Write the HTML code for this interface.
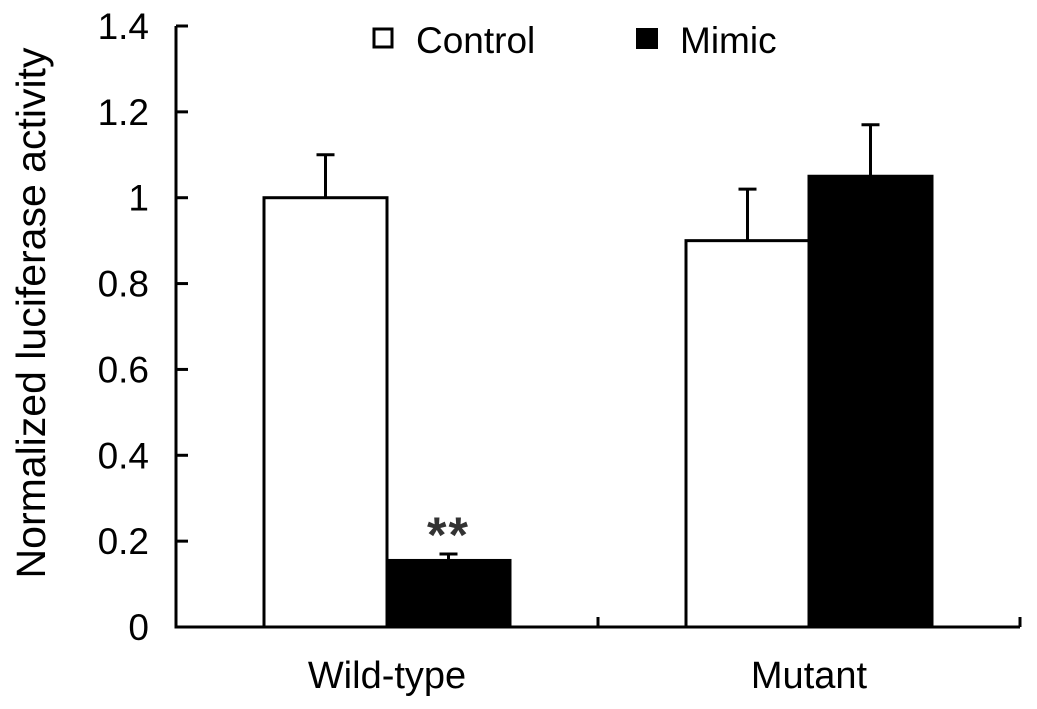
<!DOCTYPE html>
<html><head><meta charset="utf-8"><style>
body{margin:0;background:#fff}
svg{display:block;font-family:"Liberation Sans",Arial,sans-serif}
</style></head><body>
<svg id="chart" width="1037" height="709" viewBox="0 0 1037 709">
<g id="marks"></g>
<g>
<rect x="374" y="29" width="18" height="18" fill="#fff" stroke="#000" stroke-width="3"/>
<text x="416" y="53" font-size="37">Control</text>
<rect x="636" y="28" width="22" height="21" fill="#000"/>
<text x="680" y="53" font-size="37">Mimic</text>
</g>
<text transform="translate(45,313) rotate(-90)" text-anchor="middle" font-size="41">Normalized luciferase activity</text>
</svg>
<script>
const categories = ["Wild-type", "Mutant"];
const controlValues = [1.0, 0.9];
const mimicValues = [0.155, 1.05];
const controlErrors = [0.1, 0.12];
const mimicErrors = [0.015, 0.12];
const yTicks = [0, 0.2, 0.4, 0.6, 0.8, 1, 1.2, 1.4];
const yTickLabels = ["0", "0.2", "0.4", "0.6", "0.8", "1", "1.2", "1.4"];
const sigLabels = ["**", ""];

const NS = "http://www.w3.org/2000/svg";
const g = document.getElementById("marks");
const x0 = 176, x1 = 1020, yBase = 627, yTop = 26, yMax = 1.4;
const y = v => yBase - v / yMax * (yBase - yTop);
const groupW = (x1 - x0) / categories.length;
const barW = 123;
const groupCenter = i => x0 + groupW * (i + 0.5);
function el(tag, attrs, name) {
  const e = document.createElementNS(NS, tag);
  for (const k in attrs) e.setAttribute(k, attrs[k]);
  
  
  g.appendChild(e);
  return e;
}
categories.forEach((c, i) => {
  const cx = groupCenter(i);
  [[controlValues, controlErrors, cx - barW / 2], [mimicValues, mimicErrors, cx + barW / 2]].forEach(([vals, errs, mx], s) => {
    const top = y(vals[i] + errs[i]);
    el('line', {x1: mx, x2: mx, y1: y(vals[i]), y2: top, stroke: '#000', 'stroke-width': 3}, 'error-bar-' + i + '-' + s);
    el('line', {x1: mx - 9, x2: mx + 9, y1: top, y2: top, stroke: '#000', 'stroke-width': 3}, 'error-cap-' + i + '-' + s);
  });
});
categories.forEach((c, i) => {
  const cx = groupCenter(i);
  el('rect', {x: cx - barW, y: y(controlValues[i]), width: barW, height: yBase - y(controlValues[i]), fill: '#fff', stroke: '#000', 'stroke-width': 3}, 'bar-control-' + c.toLowerCase());
  el('rect', {x: cx, y: y(mimicValues[i]), width: barW, height: yBase - y(mimicValues[i]), fill: '#000', stroke: '#000', 'stroke-width': 3}, 'bar-mimic-' + c.toLowerCase());
  const t = el('text', {x: cx, y: 688, 'font-size': 38, 'text-anchor': 'middle'}, 'x-label-' + c.toLowerCase());
  t.textContent = c;
  if (sigLabels[i]) {
    const s = el('text', {x: cx + barW / 2, y: y(mimicValues[i] + mimicErrors[i]) - 2, 'font-size': 50, 'font-weight': 'bold', 'text-anchor': 'middle', fill: '#333', 'letter-spacing': 2}, 'significance-marker');
    s.textContent = sigLabels[i];
  }
});
el('line', {x1: x0, x2: x0, y1: yTop, y2: yBase + 1.5, stroke: '#000', 'stroke-width': 3}, 'y-axis');
el('line', {x1: x0 - 1.5, x2: x1, y1: yBase, y2: yBase, stroke: '#000', 'stroke-width': 3}, 'x-axis');
[x0 + groupW, x1].forEach((tx, k) => {
  el('line', {x1: tx, x2: tx, y1: yBase, y2: yBase - 10, stroke: '#000', 'stroke-width': 3}, 'x-tick-' + k);
});
yTicks.forEach((v, k) => {
  el('line', {x1: x0, x2: x0 + 12, y1: y(v), y2: y(v), stroke: '#000', 'stroke-width': 3}, 'y-tick-' + k);
  const t = el('text', {x: 149, y: y(v) + 13, 'font-size': 37, 'text-anchor': 'end'}, 'y-tick-label-' + k);
  t.textContent = yTickLabels[k];
});
</script>
</body></html>
